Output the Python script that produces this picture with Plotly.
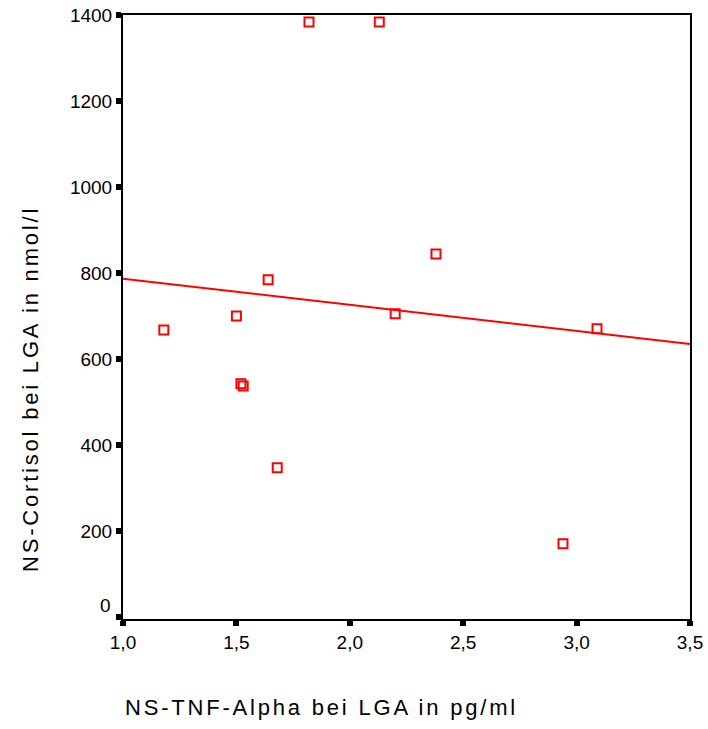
import numpy as np
import plotly.graph_objects as go

tnf_alpha = [1.18, 1.50, 1.52, 1.53, 1.64, 1.68, 1.82, 2.13, 2.20, 2.38, 2.94, 3.09]
cortisol = [667, 700, 542, 537, 784, 347, 1384, 1384, 705, 844, 170, 670]

x_ticks = [1.0, 1.5, 2.0, 2.5, 3.0, 3.5]
x_tick_labels = ["1,0", "1,5", "2,0", "2,5", "3,0", "3,5"]
y_ticks = [0, 200, 400, 600, 800, 1000, 1200, 1400]
y_tick_labels = ["", "200", "400", "600", "800", "1000", "1200", "1400"]

x_title = "NS-TNF-Alpha bei LGA in pg/ml"
y_title = "NS-Cortisol bei LGA in nmol/l"

slope, intercept = np.polyfit(tnf_alpha, cortisol, 1)
line_x = [x_ticks[0], x_ticks[-1]]
line_y = [intercept + slope * v for v in line_x]

FONT = "Liberation Sans, Arial, sans-serif"
SPACED = '<span style="letter-spacing:2.8px">{}</span>'

fig = go.Figure()
fig.add_trace(go.Scatter(x=line_x, y=line_y, mode="lines",
                         line=dict(color="#ff0000", width=2), showlegend=False))
fig.add_trace(go.Scatter(x=tnf_alpha, y=cortisol, mode="markers",
                         marker=dict(symbol="square-open", size=9, color="#ff0000",
                                     line=dict(width=2, color="#ff0000")),
                         showlegend=False))

axis_common = dict(showgrid=False, zeroline=False, showline=True, linecolor="black",
                   linewidth=2, mirror=True, ticks="outside", ticklen=5, tickwidth=6,
                   tickcolor="black", tickfont=dict(size=19), automargin=False,
                   ticklabeloverflow="allow")

fig.update_layout(
    template="none",
    width=708, height=729,
    margin=dict(l=123, r=18, t=15, b=110),
    paper_bgcolor="white", plot_bgcolor="white",
    font=dict(family=FONT, size=19, color="black"),
    xaxis=dict(range=[1.0, 3.5], tickvals=x_ticks, ticktext=x_tick_labels, **axis_common),
    yaxis=dict(range=[-5, 1400], tickvals=y_ticks, ticktext=y_tick_labels, **axis_common),
    annotations=[
        dict(text="0", xref="paper", yref="y", x=0, y=0, xanchor="right",
             yanchor="middle", xshift=-10, yshift=11, showarrow=False,
             font=dict(size=19)),
        dict(text=SPACED.format(x_title), xref="paper", yref="paper", x=0, y=0,
             xanchor="left", yanchor="middle", xshift=0, yshift=-88,
             showarrow=False, font=dict(size=22)),
        dict(text=SPACED.format(y_title), xref="paper", yref="paper", x=0, y=0.5,
             xanchor="center", yanchor="middle", xshift=-93, yshift=-72,
             textangle=-90, showarrow=False, font=dict(size=22)),
    ],
)

fig.write_html(
    "out.html",
    config={"displayModeBar": False},
    post_script="document.body.style.margin='0';document.body.style.overflow='hidden';",
)
